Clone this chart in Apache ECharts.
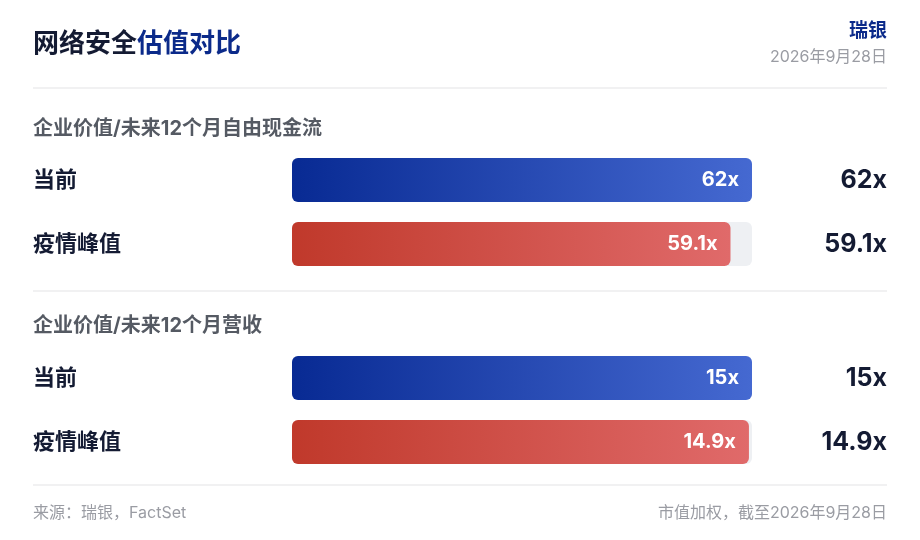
<!DOCTYPE html>
<html>
<head>
<meta charset="utf-8">
<script src="https://cdn.jsdelivr.net/npm/echarts@6/dist/echarts.min.js"></script>
<style>
    html, body { margin: 0; padding: 0; background: #fff; }
    #chart { width: 920px; height: 540px; }
</style>
</head>
<body>
<div id="chart"></div>
<script>
const FONT = 'Inter, "Noto Sans CJK SC", sans-serif';
const INK = '#141b33';
const BLUE = '#0b2a8a';

const rowLabels = ['当前', '疫情峰值'];
const sectionTitles = ['企业价值/未来12个月自由现金流', '企业价值/未来12个月营收'];
const fcfMultiples = [62, 59.1];
const revenueMultiples = [15, 14.9];

const blueFill = {
    type: 'linear', x: 0, y: 0, x2: 1, y2: 0,
    colorStops: [{ offset: 0, color: '#082a93' }, { offset: 1, color: '#4569d1' }]
};
const redFill = {
    type: 'linear', x: 0, y: 0, x2: 1, y2: 0,
    colorStops: [{ offset: 0, color: '#c0392b' }, { offset: 1, color: '#e06a6a' }]
};

function formatMultiple(value) {
    return `${value}x`;
}

function buildGrid(top) {
    return { left: 292, width: 460, top: top, height: 128 };
}

function buildAxes(gridIndex, values) {
    const xAxis = {
        type: 'value',
        gridIndex: gridIndex,
        min: 0,
        max: Math.max(...values),
        show: false
    };
    const leftAxis = {
        type: 'category',
        gridIndex: gridIndex,
        inverse: true,
        data: rowLabels,
        axisLine: { show: false },
        axisTick: { show: false },
        axisLabel: {
            align: 'left',
            margin: 259,
            fontFamily: FONT,
            fontSize: 22,
            fontWeight: 'bold',
            color: INK
        }
    };
    const rightAxis = {
        type: 'category',
        gridIndex: gridIndex,
        position: 'right',
        inverse: true,
        data: values.map(formatMultiple),
        axisLine: { show: false },
        axisTick: { show: false },
        axisLabel: {
            align: 'right',
            margin: 135,
            fontFamily: FONT,
            fontSize: 25,
            fontWeight: 'bold',
            color: INK
        }
    };
    return { xAxis, leftAxis, rightAxis };
}

function buildSeries(axisIndex, values) {
    return {
        type: 'bar',
        xAxisIndex: axisIndex,
        yAxisIndex: axisIndex * 2,
        barWidth: 44,
        showBackground: true,
        backgroundStyle: { color: '#eef0f3', borderRadius: 6 },
        data: values.map((value, i) => ({
            value: value,
            itemStyle: { color: i === 0 ? blueFill : redFill, borderRadius: 6 }
        })),
        label: {
            show: true,
            position: 'insideRight',
            distance: 13,
            formatter: (p) => formatMultiple(p.value),
            fontFamily: FONT,
            fontSize: 20,
            fontWeight: 'bold',
            color: '#fff'
        },
        silent: true
    };
}

function divider(y) {
    return {
        type: 'line',
        shape: { x1: 33, y1: y, x2: 887, y2: y },
        style: { stroke: '#ececee', lineWidth: 1.5 }
    };
}

function textItem(text, left, top, size, color, weight, align) {
    return {
        type: 'text',
        x: left,
        y: top,
        style: {
            text: text,
            fontFamily: FONT,
            fontSize: size,
            fontWeight: weight,
            fill: color,
            align: align || 'left',
            verticalAlign: 'middle'
        }
    };
}

const fcfAxes = buildAxes(0, fcfMultiples);
const revAxes = buildAxes(1, revenueMultiples);

const chart = echarts.init(document.getElementById('chart'));
chart.setOption({
    backgroundColor: '#fff',
    animation: false,
    grid: [buildGrid(148), buildGrid(346)],
    xAxis: [fcfAxes.xAxis, revAxes.xAxis],
    yAxis: [fcfAxes.leftAxis, fcfAxes.rightAxis, revAxes.leftAxis, revAxes.rightAxis],
    series: [buildSeries(0, fcfMultiples), buildSeries(1, revenueMultiples)],
    graphic: [
        {
            type: 'text',
            x: 33,
            y: 44,
            style: {
                text: '{dark|网络安全}{blue|估值对比}',
                verticalAlign: 'middle',
                rich: {
                    dark: { fontFamily: FONT, fontSize: 26, fontWeight: 'bold', fill: INK },
                    blue: { fontFamily: FONT, fontSize: 26, fontWeight: 'bold', fill: BLUE }
                }
            }
        },
        textItem('瑞银', 887, 31, 19, BLUE, 'bold', 'right'),
        textItem('2026年9月28日', 887, 57, 16, '#9a9ca3', 'normal', 'right'),
        divider(88),
        textItem(sectionTitles[0], 33, 129, 20, '#555a63', 'bold'),
        divider(291),
        textItem(sectionTitles[1], 33, 326, 20, '#555a63', 'bold'),
        divider(485),
        textItem('来源：瑞银，FactSet', 33, 513, 16, '#9a9ca3', 'normal'),
        textItem('市值加权，截至2026年9月28日', 887, 513, 16, '#9a9ca3', 'normal', 'right')
    ]
});
</script>
</body>
</html>
